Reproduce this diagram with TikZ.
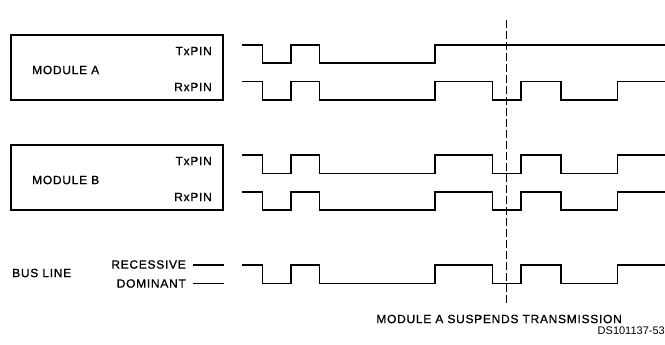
\documentclass[tikz,border=0pt]{standalone}
\usepackage{fontspec}
\setmainfont{Liberation Sans}
\newfontfamily\labelfont[LetterSpace=6,FakeBold=0.8]{Liberation Sans}
\usepackage{tikz}
\usetikzlibrary{positioning}

\begin{document}
\begin{tikzpicture}[x=1pt, y=-1pt,
  modbox/.style={draw, line width=1.6pt, minimum width=212pt, minimum height=65pt, inner sep=0pt},
  lbl/.style={font=\labelfont\fontsize{12}{14}\selectfont, inner sep=0pt},
  wave/.style={line width=1.6pt},
  cut/.style={line width=0.8pt, dash pattern=on 8pt off 3pt},
]
  \useasboundingbox (0,0) rectangle (665,345);
  % modules
  \node[modbox] (boxA) at (117,67.5) {};
  \node[modbox] (boxB) at (117,177.5) {};
  \node[lbl, anchor=west] (nameA) at (32,70) {MODULE A};
  \node[lbl, anchor=west] (nameB) at (32,180) {MODULE B};
  \node[lbl, anchor=east] (txA) at (212,51) {TxPIN};
  \node[lbl, anchor=east] (rxA) at (212,87) {RxPIN};
  \node[lbl, anchor=east] (txB) at (212,161) {TxPIN};
  \node[lbl, anchor=east] (rxB) at (212,197) {RxPIN};
  % bus levels
  \node[lbl, anchor=west] (bus) at (12,273) {BUS LINE};
  \node[lbl, anchor=east] (rec) at (186,264.5) {RECESSIVE};
  \node[lbl, anchor=east] (dom) at (186,283.5) {DOMINANT};
  \coordinate[right=38pt of rec.east] (recEnd);
  \coordinate[right=38pt of dom.east] (domEnd);
  \draw[wave] ([xshift=7pt]rec.east |- 0,265) -- (recEnd |- 0,265);
  \draw[wave] ([xshift=7pt]dom.east |- 0,283.3) -- (domEnd |- 0,283.3);
  % TxPIN of module A stops at the cut
  \draw[wave] (241.7,45) -| (262.3,63.3) -| (290.7,45) -| (319.3,63.3) -| (435,45) -- (665,45);
  % the other four lines follow the bus
  \foreach \h in {81.7,155,191.7,265}{
    \pgfmathsetmacro{\l}{\h+18.3}
    \draw[wave] (241.7,\h) -| (262.3,\l) -| (290.7,\h) -| (319.3,\l) -| (435,\h)
      -| (492.3,\l) -| (520.7,\h) -| (560.7,\l) -| (617.3,\h) -- (665,\h);
  }
  % moment of suspension
  \coordinate (cutTop) at (506,20);
  \coordinate (cutBot) at (506,303);
  \draw[cut] (cutTop) -- (cutBot);
  \node[lbl, anchor=east] (note) at (622,319) {MODULE A SUSPENDS TRANSMISSION};
  \node[font=\fontsize{11}{12}\selectfont, inner sep=0pt, anchor=east] (ref) at (665,331) {DS101137-53};
\end{tikzpicture}
\end{document}
